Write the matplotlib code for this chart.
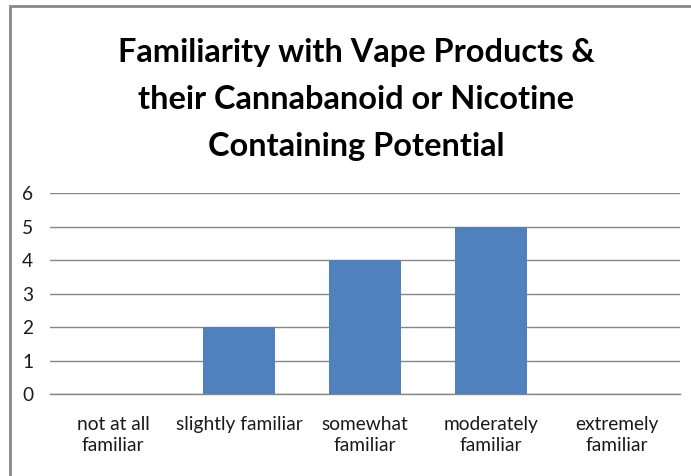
import matplotlib
matplotlib.use("Agg")
import matplotlib.pyplot as plt
from matplotlib.patches import Rectangle

plt.rcParams['font.family'] = ['Lato', 'DejaVu Sans']

categories = ["not at all\nfamiliar", "slightly familiar", "somewhat\nfamiliar",
              "moderately\nfamiliar", "extremely\nfamiliar"]
counts = [0, 2, 4, 5, 0]
y_ticks = [0, 1, 2, 3, 4, 5, 6]
title = "Familiarity with Vape Products &\ntheir Cannabanoid or Nicotine\nContaining Potential"

W, H = 691, 476
fig = plt.figure(figsize=(W / 100, H / 100), dpi=100)

# chart-area frame
fig.patches.append(Rectangle((10 / W, -0.01), 1.05, 1 - 6 / H + 0.01,
                             transform=fig.transFigure, fill=False,
                             edgecolor="#878787", linewidth=2.0))

ax = fig.add_axes([50 / W, 1 - 394 / H, (680 - 50) / W, (394 - 193.3) / H])
x = range(len(categories))
ax.bar(x, counts, width=0.57, color="#4F81BD", zorder=3)
ax.set_xlim(-0.5, len(categories) - 0.5)
ax.set_ylim(0, 6)
ax.set_yticks(y_ticks)
ax.set_xticks(list(x))
ax.set_xticklabels(categories, fontsize=13.8, color="#1a1a1a", linespacing=1.25)
ax.set_yticklabels([str(v) for v in y_ticks], fontsize=13.8, color="#1a1a1a")
ax.tick_params(axis="both", length=0)
ax.tick_params(axis="x", pad=16)
ax.tick_params(axis="y", pad=12)
for s in ["top", "right", "left"]:
    ax.spines[s].set_visible(False)
ax.spines["bottom"].set_color("#868686")
ax.spines["bottom"].set_linewidth(1.0)
ax.yaxis.grid(True, color="#868686", linewidth=1.0, zorder=0)
ax.set_axisbelow(True)

fig.text(356 / W, 1 - 99.5 / H, title, ha="center", va="center",
         fontsize=23.4, fontweight="bold", color="#000000", linespacing=1.74)

fig.savefig("out.png", dpi=100)
